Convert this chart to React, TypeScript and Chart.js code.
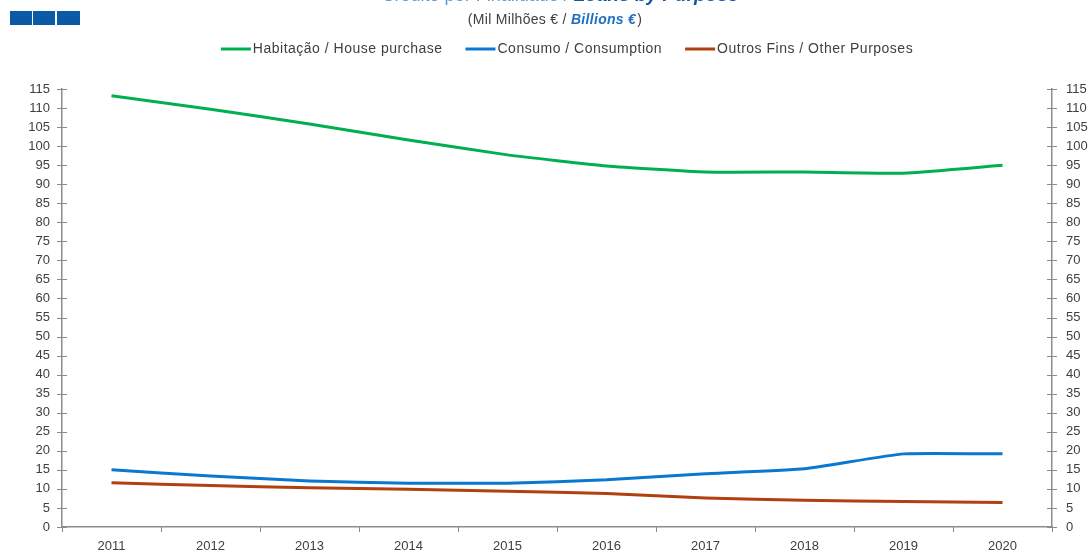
import React, { useEffect, useRef } from "react";
import { Chart, registerables } from "chart.js";

Chart.register(...registerables);

const years = ["2011", "2012", "2013", "2014", "2015", "2016", "2017", "2018", "2019", "2020"];
const housePurchase = [113.2, 109.7, 105.8, 101.6, 97.7, 94.8, 93.2, 93.2, 92.9, 95.0];
const consumption = [15.0, 13.4, 12.1, 11.5, 11.5, 12.4, 14.0, 15.3, 19.2, 19.2];
const otherPurposes = [11.6, 10.9, 10.3, 9.9, 9.4, 8.8, 7.6, 7.0, 6.7, 6.4];

const seriesLabels = [
  "Habitação / House purchase",
  "Consumo / Consumption",
  "Outros Fins / Other Purposes",
];
const seriesColors = ["#00b050", "#0a78d0", "#b0400f"];

const titlePt = "Crédito por Finalidade / ";
const titleEn = "Loans by Purpose";
const subPt = "(Mil Milhões € / ";
const subEn = "Billions €";
const subEnd = ")";

const FONT = "'Liberation Sans', Arial, sans-serif";
const AXIS = "#8c8c8c";
const TEXT = "#404040";

const headerPlugin = {
  id: "header",
  afterDraw(chart: any) {
    const ctx = chart.ctx;
    ctx.save();
    // blue squares
    ctx.fillStyle = "#0b5aa6";
    ctx.fillRect(10, 11, 22, 14);
    ctx.fillRect(33, 11, 22, 14);
    ctx.fillRect(57, 11, 23, 14);

    // title (cut at top)
    ctx.textBaseline = "alphabetic";
    ctx.textAlign = "left";
    ctx.font = `18px ${FONT}`;
    const w1 = ctx.measureText(titlePt).width;
    ctx.font = `italic bold 19px ${FONT}`;
    const w2 = ctx.measureText(titleEn).width;
    let x = 560 - (w1 + w2) / 2;
    ctx.font = `18px ${FONT}`;
    ctx.fillStyle = "#5b9bd5";
    ctx.fillText(titlePt, x, 0.5);
    ctx.font = `italic bold 19px ${FONT}`;
    ctx.fillStyle = "#0b5aa6";
    ctx.fillText(titleEn, x + w1, 0.5);

    // subtitle
    ctx.textBaseline = "middle";
    (ctx as any).letterSpacing = "0.3px";
    ctx.font = `14px ${FONT}`;
    const s1 = ctx.measureText(subPt).width;
    const s3 = ctx.measureText(subEnd).width;
    ctx.font = `italic bold 14px ${FONT}`;
    const s2 = ctx.measureText(subEn).width;
    x = 555 - (s1 + s2 + s3 + 1) / 2;
    ctx.font = `14px ${FONT}`;
    ctx.fillStyle = TEXT;
    ctx.fillText(subPt, x, 20);
    ctx.font = `italic bold 14px ${FONT}`;
    ctx.fillStyle = "#1f6fc0";
    ctx.fillText(subEn, x + s1, 20);
    ctx.font = `14px ${FONT}`;
    ctx.fillStyle = TEXT;
    ctx.fillText(subEnd, x + s1 + s2 + 1, 20);

    // legend
    (ctx as any).letterSpacing = "0.5px";
    ctx.font = `14px ${FONT}`;
    const lineW = 30;
    const gap = 2;
    const spacing = 23;
    const widths = seriesLabels.map((l) => ctx.measureText(l).width);
    const total = widths.reduce((a, b) => a + b, 0) + seriesLabels.length * (lineW + gap) + spacing * (seriesLabels.length - 1);
    x = 567 - total / 2;
    const ly = 49;
    seriesLabels.forEach((l, i) => {
      ctx.strokeStyle = seriesColors[i];
      ctx.lineWidth = 3;
      ctx.beginPath();
      ctx.moveTo(x, ly);
      ctx.lineTo(x + lineW, ly);
      ctx.stroke();
      ctx.fillStyle = TEXT;
      ctx.fillText(l, x + lineW + gap, ly);
      x += lineW + gap + widths[i] + spacing;
    });
    (ctx as any).letterSpacing = "0px";

    // axis ticks
    ctx.strokeStyle = AXIS;
    ctx.lineWidth = 1;
    const area = chart.chartArea;
    const yl = chart.scales.y;
    const xs = chart.scales.x;
    ctx.beginPath();
    yl.ticks.forEach((t: any) => {
      const py = Math.round(yl.getPixelForValue(t.value)) + 0.5;
      ctx.moveTo(area.left - 5, py);
      ctx.lineTo(area.left + 5, py);
      ctx.moveTo(area.right - 5, py);
      ctx.lineTo(area.right + 5, py);
    });
    const n = years.length;
    for (let i = 0; i <= n; i++) {
      let px;
      if (i === 0) px = area.left;
      else if (i === n) px = area.right;
      else px = (xs.getPixelForValue(i - 1) + xs.getPixelForValue(i)) / 2;
      px = Math.round(px) + 0.5;
      ctx.moveTo(px, area.bottom);
      ctx.lineTo(px, area.bottom + 5);
    }
    ctx.stroke();
    ctx.restore();
  },
};

export default function App() {
  const ref = useRef<HTMLCanvasElement | null>(null);

  useEffect(() => {
    document.body.style.margin = "0";
    const canvas = ref.current;
    if (!canvas) return;
    const data = [housePurchase, consumption, otherPurposes];
    const chart = new Chart(canvas, {
      type: "line",
      data: {
        labels: years,
        datasets: seriesLabels.map((l, i) => ({
          label: l,
          data: data[i],
          borderColor: seriesColors[i],
          backgroundColor: seriesColors[i],
          borderWidth: 3,
          pointRadius: 0,
          tension: 0.15,
          yAxisID: "y",
        })),
      },
      options: {
        animation: false,
        responsive: false,
        maintainAspectRatio: false,
        devicePixelRatio: 1,
        layout: { padding: { top: 89, left: 0, right: 0, bottom: 0 } },
        plugins: {
          legend: { display: false },
          title: { display: false },
          tooltip: { enabled: false },
        },
        scales: {
          x: {
            type: "category",
            offset: true,
            grid: { display: false },
            border: { display: true, color: AXIS, width: 1.5 },
            ticks: { color: TEXT, font: { family: FONT, size: 13 }, padding: 4, maxRotation: 0 },
            afterFit(scale: any) {
              scale.height = 27;
            },
          },
          y: {
            position: "left",
            min: 0,
            max: 115,
            grid: { display: false },
            border: { display: true, color: AXIS, width: 1.5 },
            ticks: { stepSize: 5, color: TEXT, font: { family: FONT, size: 13 }, padding: 4 },
            afterFit(scale: any) {
              scale.width = 62;
            },
          },
          y2: {
            position: "right",
            min: 0,
            max: 115,
            grid: { display: false },
            border: { display: true, color: AXIS, width: 1.5 },
            ticks: { stepSize: 5, color: TEXT, font: { family: FONT, size: 13 }, padding: 6 },
            afterFit(scale: any) {
              scale.width = 40;
            },
          },
        },
      },
      plugins: [headerPlugin],
    });
    return () => chart.destroy();
  }, []);

  return (
    <div style={{ position: "absolute", left: 0, top: 0, width: 1092, height: 554 }}>
      <canvas ref={ref} width={1092} height={554} style={{ width: 1092, height: 554, display: "block" }} />
    </div>
  );
}
